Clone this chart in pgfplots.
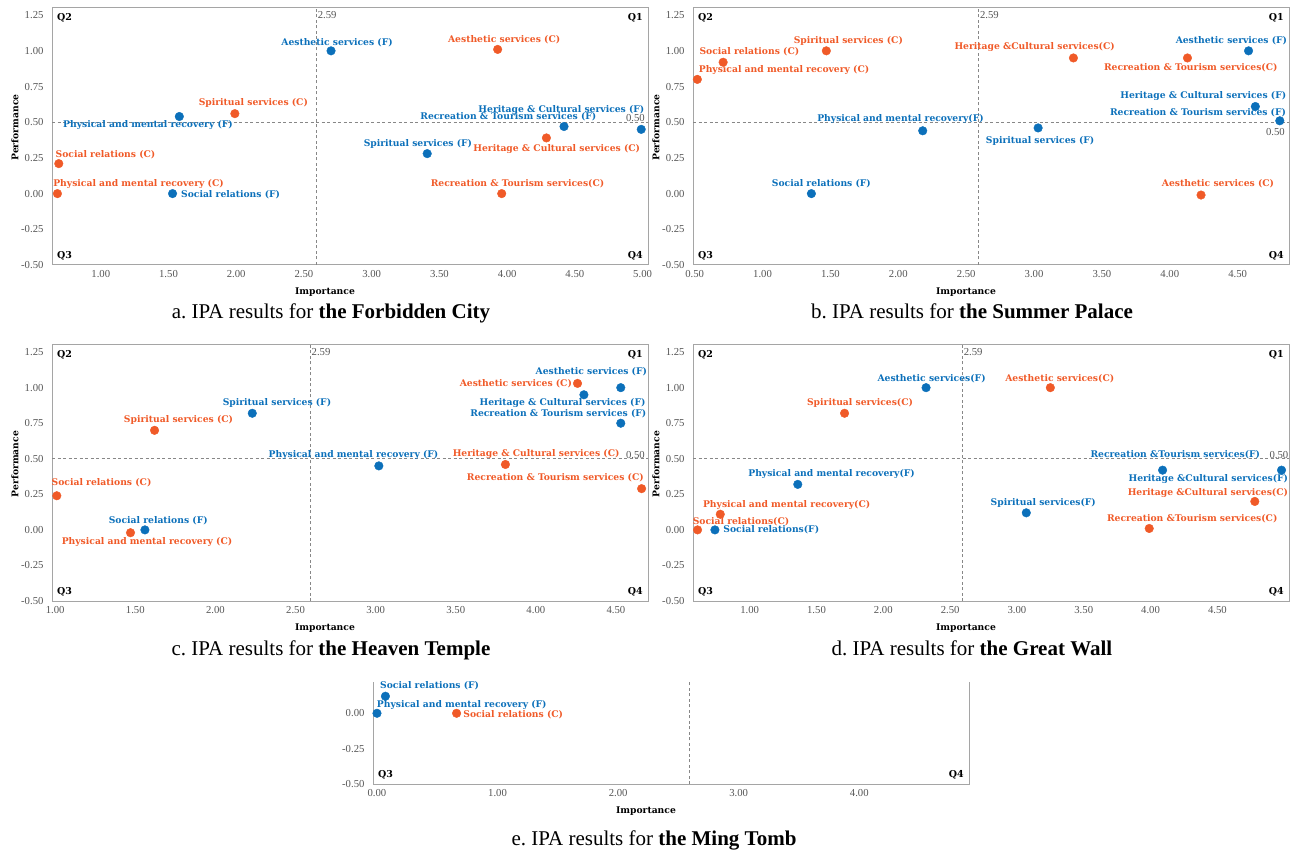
\documentclass[border=0pt]{standalone}
\usepackage{fontspec}
\setmainfont{Liberation Serif}
\newfontfamily\lfam{DejaVu Serif}
\usepackage{pgfplots}
\pgfplotsset{compat=1.18}
\definecolor{cblue}{RGB}{12,112,186}
\definecolor{corange}{RGB}{240,90,40}
\definecolor{axgray}{RGB}{165,165,165}
\definecolor{dashgray}{RGB}{135,135,135}
\definecolor{tickgray}{RGB}{85,85,85}
\newcommand{\lf}{\lfam\bfseries\fontsize{9.2}{10}\selectfont}
\newcommand{\qf}{\lfam\bfseries\fontsize{9.5}{10}\selectfont}
\newcommand{\tf}{\fontsize{10.7}{12}\selectfont}
\newcommand{\capf}{\fontsize{21}{24}\selectfont\frenchspacing}
\newcommand{\lb}[6]{\node[anchor=#2, xshift=#3pt, yshift=#4pt, inner sep=0pt, font=\lf, text=#5] at (axis cs:#1) {#6};}
\newcommand{\qtop}{%
  \node[anchor=west, inner sep=0pt, font=\qf, xshift=5pt, yshift=-10pt] at (rel axis cs:0,1) {Q2};
  \node[anchor=east, inner sep=0pt, font=\qf, xshift=-5pt, yshift=-10pt] at (rel axis cs:1,1) {Q1};
  \node[anchor=west, inner sep=0pt, font=\tf, text=tickgray, xshift=1.5pt, yshift=-7pt] at (axis cs:2.59,1.30) {2.59};}
\newcommand{\qbot}{%
  \node[anchor=west, inner sep=0pt, font=\qf, xshift=5pt, yshift=9.5pt] at (rel axis cs:0,0) {Q3};
  \node[anchor=east, inner sep=0pt, font=\qf, xshift=-5pt, yshift=9.5pt] at (rel axis cs:1,0) {Q4};}
\pgfplotsset{
  ipa/.style={
    scale only axis, width=596pt, height=257pt,
    anchor=south west,
    ymin=-0.5, ymax=1.30,
    ytick={-0.5,-0.25,0,0.25,0.5,0.75,1,1.25},
    /pgf/number format/assume math mode=true,
    /pgf/number format/fixed,
    /pgf/number format/fixed zerofill,
    /pgf/number format/precision=2,
    tick label style={font=\tf, text=tickgray},
    yticklabel style={xshift=-5pt},
    xticklabel style={yshift=-2pt},
    major tick length=0pt,
    axis line style={draw=axgray, line width=1pt},
    xlabel={Importance}, ylabel={Performance},
    label style={font=\lf, text=black},
    xlabel style={at={(axis description cs:0.458,-0.105)}, anchor=center},
    ylabel style={at={(axis description cs:-0.062,0.535)}, anchor=center},
    clip=false,
    only marks,
  },
  fser/.style={mark=*, mark size=4.3pt, mark options={draw=cblue, fill=cblue}},
  cser/.style={mark=*, mark size=4.3pt, mark options={draw=corange, fill=corange}},
  dline/.style={no marks, dashgray, line width=0.7pt, dash pattern=on 3pt off 2.5pt, forget plot, sharp plot},
}
\begin{document}
\begin{tikzpicture}[x=1pt,y=1pt]
\path[use as bounding box] (0,0) rectangle (1292,852);

% ---------- a. Forbidden City ----------
\begin{axis}[ipa, at={(52pt,587pt)}, xmin=0.64, xmax=5.04,
  xtick={1,1.5,2,2.5,3,3.5,4,4.5,5}]
\addplot[dline] coordinates {(2.59,-0.5) (2.59,1.30)};
\addplot[dline] coordinates {(0.64,0.5) (5.04,0.5)};
\addplot[fser] coordinates {(2.70,1.00) (4.99,0.45) (4.42,0.47) (3.41,0.28) (1.58,0.54) (1.53,0.00)};
\addplot[cser] coordinates {(3.93,1.01) (4.29,0.39) (3.96,0.00) (1.99,0.56) (0.69,0.21) (0.68,0.00)};
\qtop \qbot
\node[anchor=east, inner sep=0pt, font=\tf, text=tickgray, xshift=-3pt, yshift=4.3pt] at (axis cs:5.04,0.5) {0.50};
\lb{2.70,1.00}{center}{6}{8.4}{cblue}{Aesthetic services (F)}
\lb{3.93,1.01}{center}{6.5}{10}{corange}{Aesthetic services (C)}
\lb{4.99,0.45}{east}{3.3}{19.7}{cblue}{Heritage \& Cultural services (F)}
\lb{4.42,0.47}{center}{-55.7}{9.4}{cblue}{Recreation \& Tourism services (F)}
\lb{4.29,0.39}{center}{10.3}{-11.3}{corange}{Heritage \& Cultural services (C)}
\lb{3.96,0.00}{center}{15.8}{10}{corange}{Recreation \& Tourism services(C)}
\lb{3.41,0.28}{center}{-9.3}{9.3}{cblue}{Spiritual services (F)}
\lb{1.58,0.54}{center}{-31.3}{-8.7}{cblue}{Physical and mental recovery (F)}
\lb{1.99,0.56}{center}{18.5}{11}{corange}{Spiritual services (C)}
\lb{0.69,0.21}{west}{-3.3}{9.4}{corange}{Social relations (C)}
\lb{0.68,0.00}{west}{-4.3}{9.7}{corange}{Physical and mental recovery (C)}
\lb{1.53,0.00}{west}{8.4}{-1}{cblue}{Social relations (F)}
\end{axis}

% ---------- b. Summer Palace ----------
\begin{axis}[ipa, at={(693pt,587pt)}, xmin=0.488, xmax=4.878,
  xtick={0.5,1,1.5,2,2.5,3,3.5,4,4.5}]
\addplot[dline] coordinates {(2.59,-0.5) (2.59,1.30)};
\addplot[dline] coordinates {(0.488,0.5) (4.878,0.5)};
\addplot[fser] coordinates {(4.58,1.00) (4.63,0.61) (4.81,0.51) (3.03,0.46) (2.18,0.44) (1.36,0.00)};
\addplot[cser] coordinates {(1.47,1.00) (0.71,0.92) (0.52,0.80) (3.29,0.95) (4.13,0.95) (4.23,-0.01)};
\qtop \qbot
\node[anchor=east, inner sep=0pt, font=\tf, text=tickgray, xshift=-4pt, yshift=-10pt] at (axis cs:4.878,0.5) {0.50};
\lb{1.47,1.00}{center}{22}{10}{corange}{Spiritual services (C)}
\lb{0.71,0.92}{center}{26.2}{11}{corange}{Social relations (C)}
\lb{0.52,0.80}{west}{1.3}{9.4}{corange}{Physical and mental recovery (C)}
\lb{2.18,0.44}{center}{-22.2}{11.7}{cblue}{Physical and mental recovery(F)}
\lb{1.36,0.00}{center}{10}{10}{cblue}{Social relations (F)}
\lb{3.29,0.95}{center}{-38.8}{10.7}{corange}{Heritage \&Cultural services(C)}
\lb{4.13,0.95}{center}{3.3}{-9.7}{corange}{Recreation \& Tourism services(C)}
\lb{4.58,1.00}{east}{38.7}{10}{cblue}{Aesthetic services (F)}
\lb{4.63,0.61}{east}{31}{10.6}{cblue}{Heritage \& Cultural services (F)}
\lb{4.81,0.51}{east}{6.4}{8}{cblue}{Recreation \& Tourism services (F)}
\lb{3.03,0.46}{center}{2}{-13.3}{cblue}{Spiritual services (F)}
\lb{4.23,-0.01}{center}{17}{11.3}{corange}{Aesthetic services (C)}
\end{axis}

% ---------- c. Heaven Temple ----------
\begin{axis}[ipa, at={(52pt,251pt)}, height=256pt, xmin=0.98, xmax=4.70,
  xtick={1,1.5,2,2.5,3,3.5,4,4.5}]
\addplot[dline] coordinates {(2.59,-0.5) (2.59,1.30)};
\addplot[dline] coordinates {(0.98,0.5) (4.70,0.5)};
\addplot[fser] coordinates {(2.23,0.82) (1.56,0.00) (3.02,0.45) (4.30,0.95) (4.53,1.00) (4.53,0.75)};
\addplot[cser] coordinates {(1.62,0.70) (1.01,0.24) (1.47,-0.02) (3.81,0.46) (4.66,0.29) (4.26,1.03)};
\qtop \qbot
\node[anchor=east, inner sep=0pt, font=\tf, text=tickgray, xshift=-3pt, yshift=4pt] at (axis cs:4.70,0.5) {0.50};
\lb{2.23,0.82}{center}{24.7}{10}{cblue}{Spiritual services (F)}
\lb{1.62,0.70}{center}{24}{10.7}{corange}{Spiritual services (C)}
\lb{1.01,0.24}{west}{-5.3}{13.3}{corange}{Social relations (C)}
\lb{1.47,-0.02}{center}{16.5}{-9.4}{corange}{Physical and mental recovery (C)}
\lb{1.56,0.00}{center}{13.3}{9.6}{cblue}{Social relations (F)}
\lb{3.02,0.45}{center}{-25.3}{11}{cblue}{Physical and mental recovery (F)}
\lb{3.81,0.46}{center}{30.7}{10}{corange}{Heritage \& Cultural services (C)}
\lb{4.66,0.29}{east}{2.3}{11}{corange}{Recreation \& Tourism services (C)}
\lb{4.26,1.03}{east}{-5.4}{0}{corange}{Aesthetic services (C)}
\lb{4.30,0.95}{east}{61.7}{-8.6}{cblue}{Heritage \& Cultural services (F)}
\lb{4.53,1.00}{east}{26.4}{15.6}{cblue}{Aesthetic services (F)}
\lb{4.53,0.75}{east}{25.7}{9.7}{cblue}{Recreation \& Tourism services (F)}
\end{axis}

% ---------- d. Great Wall ----------
\begin{axis}[ipa, at={(693pt,251pt)}, height=256pt, xmin=0.576, xmax=5.036,
  xtick={1,1.5,2,2.5,3,3.5,4,4.5}]
\addplot[dline] coordinates {(2.59,-0.5) (2.59,1.30)};
\addplot[dline] coordinates {(0.576,0.5) (5.036,0.5)};
\addplot[fser] coordinates {(2.32,1.00) (1.36,0.32) (0.74,0.00) (4.09,0.42) (4.98,0.42) (3.07,0.12)};
\addplot[cser] coordinates {(1.71,0.82) (0.78,0.11) (0.61,0.00) (3.25,1.00) (4.78,0.20) (3.99,0.01)};
\qtop \qbot
\node[anchor=east, inner sep=0pt, font=\tf, text=tickgray, xshift=-0.5pt, yshift=4pt] at (axis cs:5.036,0.5) {0.50};
\lb{2.32,1.00}{center}{5.5}{9}{cblue}{Aesthetic services(F)}
\lb{1.71,0.82}{center}{15.5}{10.3}{corange}{Spiritual services(C)}
\lb{1.36,0.32}{center}{33.8}{10.3}{cblue}{Physical and mental recovery(F)}
\lb{0.78,0.11}{center}{66.4}{9.7}{corange}{Physical and mental recovery(C)}
\lb{0.61,0.00}{west}{-5}{8}{corange}{Social relations(C)}
\lb{0.74,0.00}{west}{8.3}{-0.3}{cblue}{Social relations(F)}
\lb{3.25,1.00}{center}{9.4}{9}{corange}{Aesthetic services(C)}
\lb{4.09,0.42}{center}{12.7}{15.7}{cblue}{Recreation \&Tourism services(F)}
\lb{4.98,0.42}{east}{6.7}{-9}{cblue}{Heritage \&Cultural services(F)}
\lb{4.78,0.20}{east}{33.4}{8}{corange}{Heritage \&Cultural services(C)}
\lb{3.07,0.12}{center}{17}{9.6}{cblue}{Spiritual services(F)}
\lb{3.99,0.01}{center}{43}{9.7}{corange}{Recreation \&Tourism services(C)}
\end{axis}

% ---------- e. Ming Tomb ----------
\begin{axis}[ipa, at={(373pt,67.7pt)}, height=102pt, xmin=-0.033, xmax=4.91,
  ymin=-0.5, ymax=0.218, xtick={0,1,2,3,4}, ytick={-0.5,-0.25,0},
  ylabel={}, axis line style={draw=none},
  xlabel style={at={(axis description cs:0.458,-0.265)}, anchor=center}]
\draw[axgray, line width=1pt] (rel axis cs:0,1) -- (rel axis cs:0,0) -- (rel axis cs:1,0) -- (rel axis cs:1,1);
\addplot[dline] coordinates {(2.59,-0.5) (2.59,0.218)};
\addplot[fser] coordinates {(0.07,0.12) (0.00,0.00)};
\addplot[cser] coordinates {(0.66,0.00)};
\qbot
\lb{0.07,0.12}{center}{44.2}{10.6}{cblue}{Social relations (F)}
\lb{0.00,0.00}{center}{84.8}{8.6}{cblue}{Physical and mental recovery (F)}
\lb{0.66,0.00}{west}{6.6}{-1}{corange}{Social relations (C)}
\end{axis}

% ---------- captions ----------
\node[anchor=base, inner sep=0pt, font=\capf] at (331,533) {a. IPA results for \textbf{the Forbidden City}};
\node[anchor=base, inner sep=0pt, font=\capf] at (972,533) {b. IPA results for \textbf{the Summer Palace}};
\node[anchor=base, inner sep=0pt, font=\capf] at (331,197) {c. IPA results for \textbf{the Heaven Temple}};
\node[anchor=base, inner sep=0pt, font=\capf] at (972,197) {d. IPA results for \textbf{the Great Wall}};
\node[anchor=base, inner sep=0pt, font=\capf] at (654,7) {e. IPA results for \textbf{the Ming Tomb}};
\end{tikzpicture}
\end{document}
